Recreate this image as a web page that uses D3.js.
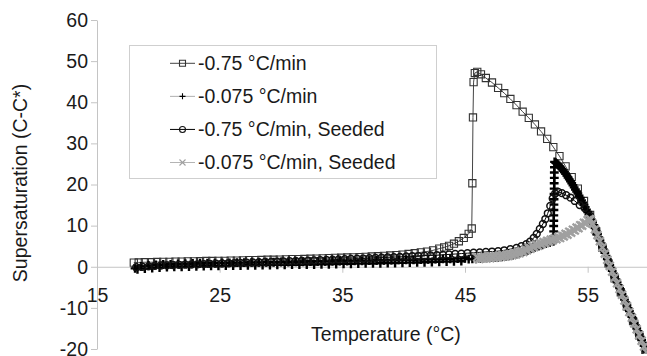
<!DOCTYPE html>
<html>
<head>
<meta charset="utf-8">
<script src="https://cdn.jsdelivr.net/npm/d3@7"></script>
<style>
  html, body { margin: 0; padding: 0; background: #ffffff; }
  svg { display: block; font-family: "Liberation Sans", Arial, Helvetica, sans-serif; }
</style>
</head>
<body>
<svg id="chart" width="647" height="356"></svg>
<script>
// ---- data: supersaturation (C - C*) versus temperature during cooling ----
const seriesNames = [
  "-0.75 °C/min",
  "-0.075 °C/min",
  "-0.75 °C/min, Seeded",
  "-0.075 °C/min, Seeded"
];

const temperatureTicks = [15, 25, 35, 45, 55];
const supersaturationTicks = [-20, -10, 0, 10, 20, 30, 40, 50, 60];

// [temperature °C, supersaturation]
const fastUnseeded = [
  [59.7,-20.2],[59.2,-16.7],[58.7,-13.2],[58.2,-9.7],[57.7,-6.2],[57.2,-2.8],[56.7,0.8],[56.2,4.6],
  [55.7,8.6],[55.2,12.6],[54.7,16.0],[54.2,19.0],[53.7,21.8],[53.2,24.4],[52.7,26.9],[52.2,29.1],
  [51.7,31.1],[51.2,32.9],[50.7,34.6],[50.2,36.2],[49.7,37.7],[49.2,39.3],[48.7,40.8],[48.2,42.2],
  [47.7,43.5],[47.2,44.8],[46.7,45.9],[46.3,46.8],[46.0,47.4],[45.8,47.1],[45.7,44.9],[45.65,36.3],
  [45.6,20.3],[45.55,9.3],[45.3,8.0],[44.9,7.0],[44.5,6.2],[44.1,5.6],[43.7,5.1],[43.3,4.7],
  [42.9,4.4],[42.4,4.0],[41.9,3.7],[41.4,3.5],[40.9,3.3],[40.4,3.1],[39.9,2.95],[39.4,2.85],
  [38.9,2.75],[38.4,2.65],[37.9,2.55],[37.4,2.5],[36.9,2.4],[36.4,2.35],[35.9,2.3],[35.4,2.25],
  [34.9,2.2],[34.4,2.15],[33.9,2.1],[33.4,2.05],[32.9,2.0],[32.4,1.95],[31.9,1.9],[31.4,1.85],
  [30.9,1.85],[30.4,1.8],[29.9,1.75],[29.4,1.7],[28.9,1.7],[28.4,1.65],[27.9,1.6],[27.4,1.6],
  [26.9,1.55],[26.4,1.5],[25.9,1.5],[25.4,1.45],[24.9,1.45],[24.4,1.4],[23.9,1.4],[23.4,1.35],
  [22.9,1.3],[22.4,1.3],[21.9,1.25],[21.4,1.25],[20.9,1.2],[20.4,1.2],[19.9,1.15],[19.4,1.1],
  [18.9,1.1],[18.4,1.05],[18.0,1.0]
];

const slowUnseeded = [
  [59.8,-20.6],[59.7,-19.9],[59.6,-19.2],[59.5,-18.5],[59.4,-17.8],[59.3,-17.1],[59.2,-16.4],[59.1,-15.7],
  [59.0,-15.0],[58.9,-14.3],[58.8,-13.6],[58.7,-12.9],[58.6,-12.2],[58.5,-11.5],[58.4,-10.8],[58.3,-10.1],
  [58.2,-9.4],[58.1,-8.7],[58.0,-8.0],[57.9,-7.3],[57.8,-6.6],[57.7,-5.9],[57.6,-5.2],[57.5,-4.5],
  [57.4,-3.8],[57.3,-3.1],[57.2,-2.4],[57.1,-1.7],[57.0,-1.0],[56.9,-0.3],[56.8,0.4],[56.7,1.15],
  [56.6,1.9],[56.5,2.65],[56.4,3.4],[56.3,4.15],[56.2,4.9],[56.1,5.65],[56.0,6.4],[55.9,7.15],
  [55.8,7.9],[55.7,8.65],[55.6,9.4],[55.5,10.1],[55.4,10.8],[55.3,11.45],[55.2,12.1],[55.1,12.7],
  [55.0,13.3],[54.9,13.9],[54.8,14.5],[54.7,15.05],[54.6,15.6],[54.5,16.15],[54.4,16.7],[54.3,17.25],
  [54.2,17.8],[54.1,18.3],[54.0,18.8],[53.9,19.3],[53.8,19.8],[53.7,20.3],[53.6,20.8],[53.5,21.25],
  [53.4,21.7],[53.3,22.15],[53.2,22.6],[53.1,23.0],[53.0,23.4],[52.9,23.75],[52.8,24.1],[52.7,24.45],
  [52.6,24.8],[52.5,25.05],[52.4,25.3],[52.3,25.5],
  [52.29,24.2],[52.28,22.9],[52.28,21.6],[52.27,20.3],[52.27,19.0],[52.26,17.7],[52.26,16.4],[52.25,15.1],
  [52.25,13.8],[52.24,12.5],[52.24,11.2],[52.23,9.9],[52.23,8.6],[52.22,7.3],[52.21,6.2],
  [51.9,5.9],[51.6,5.6],[51.3,5.3],[51.0,5.0],[50.7,4.7],[50.4,4.4],[50.1,4.0],[49.8,3.7],
  [49.5,3.4],[49.2,3.1],[48.9,2.85],[48.6,2.65],[48.3,2.5],[48.0,2.4],[47.7,2.3],[47.4,2.25],
  [47.1,2.2],[46.8,2.15],[46.5,2.1],[46.2,2.0],[45.9,1.95],[45.6,1.9],[45.3,1.85],
  [45.0,2.05],[44.7,1.35],[44.4,2.0],[44.1,1.3],[43.8,1.95],[43.5,1.25],[43.2,1.9],[42.9,1.2],
  [42.6,1.85],[42.3,1.15],[42.0,1.8],[41.7,1.1],[41.4,1.75],[41.1,1.05],[40.8,1.7],[40.5,1.0],
  [40.2,1.7],[39.9,0.95],[39.6,1.65],[39.3,0.9],[39.0,1.6],[38.7,0.9],[38.4,1.55],[38.1,0.85],
  [37.8,1.55],[37.5,0.8],[37.2,1.5],[36.9,0.8],[36.6,1.45],[36.3,0.75],[36.0,1.45],[35.7,0.7],
  [35.4,1.4],[35.1,0.7],[34.8,1.35],[34.5,0.65],[34.2,1.35],[33.9,0.6],[33.6,1.3],[33.3,0.6],
  [33.0,1.3],[32.7,0.55],[32.4,1.25],[32.1,0.55],[31.8,1.2],[31.5,0.5],[31.2,1.2],[30.9,0.5],
  [30.6,1.15],[30.3,0.45],[30.0,1.15],[29.7,0.45],[29.4,1.1],[29.1,0.4],[28.8,1.1],[28.5,0.4],
  [28.2,1.05],[27.9,0.35],[27.6,1.05],[27.3,0.35],[27.0,1.0],[26.7,0.3],[26.4,1.0],[26.1,0.3],
  [25.8,0.95],[25.5,0.25],[25.2,0.95],[24.9,0.2],[24.6,0.9],[24.3,0.2],[24.0,0.85],[23.7,0.15],
  [23.4,0.85],[23.1,0.1],[22.8,0.8],[22.5,0.05],[22.2,0.75],[21.9,0.0],[21.6,0.7],[21.3,-0.05],
  [21.0,0.6],[20.7,-0.1],[20.4,0.55],[20.1,-0.2],[19.8,0.45],[19.5,-0.3],[19.2,0.3],[18.9,-0.45],
  [18.6,0.1],[18.3,-0.65],[18.1,-0.4]
];

const fastSeeded = [
  [59.7,-20.1],[59.2,-16.6],[58.7,-13.1],[58.2,-9.6],[57.7,-6.1],[57.2,-2.7],[56.7,0.9],[56.2,4.7],
  [55.7,8.6],[55.2,12.4],[54.75,14.3],[54.35,15.0],[53.95,16.0],[53.6,16.8],[53.25,17.4],[52.9,17.9],
  [52.6,18.2],[52.35,17.8],[52.15,16.6],[51.95,14.8],[51.75,13.0],[51.55,11.6],[51.35,10.4],[51.1,9.2],
  [50.85,8.0],[50.6,7.0],[50.3,6.1],[50.0,5.5],[49.6,5.0],[49.2,4.6],[48.7,4.3],[48.2,4.0],
  [47.7,3.8],[47.2,3.7],[46.7,3.6],[46.2,3.5],[45.7,3.4],[45.2,3.3],[44.7,3.2],[44.2,3.1],
  [43.7,3.0],[43.2,2.9],[42.7,2.8],[42.2,2.75],[41.7,2.7],[41.2,2.6],[40.7,2.55],[40.2,2.5],
  [39.7,2.4],[39.2,2.35],[38.7,2.3],[38.2,2.2],[37.7,2.15],[37.2,2.1],[36.7,2.0],[36.2,1.95],
  [35.7,1.9],[35.2,1.85],[34.7,1.8],[34.2,1.7],[33.7,1.65],[33.2,1.6],[32.7,1.55],[32.2,1.5],
  [31.7,1.45],[31.2,1.4],[30.7,1.35],[30.2,1.3],[29.7,1.25],[29.2,1.2],[28.7,1.15],[28.2,1.1],
  [27.7,1.05],[27.2,1.0],[26.7,0.95],[26.2,0.9],[25.7,0.85],[25.2,0.8],[24.7,0.75],[24.2,0.7],
  [23.7,0.65],[23.2,0.6],[22.7,0.55],[22.2,0.5],[21.7,0.45],[21.2,0.4],[20.7,0.35],[20.2,0.3],
  [19.7,0.2],[19.2,0.1],[18.7,0.0],[18.2,-0.1]
];

const slowSeeded = [
  [59.8,-20.8],[59.6,-19.4],[59.4,-18.0],[59.2,-16.6],[59.0,-15.2],[58.8,-13.8],[58.6,-12.4],[58.4,-11.0],
  [58.2,-9.6],[58.0,-8.2],[57.8,-6.8],[57.6,-5.4],[57.4,-4.0],[57.2,-2.6],[57.0,-1.2],[56.8,0.2],
  [56.6,1.7],[56.4,3.2],[56.2,4.7],[56.0,6.2],[55.8,7.7],[55.6,9.1],[55.4,10.5],[55.25,11.5],
  [55.15,11.6],[55.0,11.3],[54.85,10.6],[54.7,10.7],[54.55,10.0],[54.4,10.1],[54.25,9.4],[54.1,9.5],
  [53.95,8.8],[53.8,9.0],[53.65,8.3],[53.5,8.5],[53.35,7.8],[53.2,8.0],[53.05,7.4],[52.9,7.6],
  [52.75,7.0],[52.6,7.2],[52.45,6.7],[52.3,6.9],[52.15,6.4],[52.0,6.6],[51.85,6.1],[51.7,6.3],
  [51.55,5.8],[51.4,6.0],[51.25,5.5],[51.1,5.7],[50.95,5.1],[50.8,5.4],[50.65,4.8],[50.5,5.0],
  [50.35,4.4],[50.2,4.6],[50.05,4.0],[49.9,4.2],[49.75,3.6],[49.6,3.8],[49.45,3.3],[49.3,3.5],
  [49.15,3.0],[49.0,3.3],[48.85,2.8],[48.7,3.1],[48.55,2.6],[48.4,2.95],[48.25,2.5],[48.1,2.85],
  [47.95,2.4],[47.8,2.75],[47.65,2.3],[47.5,2.65],[47.35,2.2],[47.2,2.55],[47.05,2.1],[46.9,2.5],
  [46.75,2.05],[46.6,2.4],[46.45,2.0],[46.3,2.35],[46.15,1.9],[46.0,2.3]
];

// ---- layout ----
const svg = d3.select("#chart");
const plot = { left: 97, right: 649, top: 20, bottom: 349 };
const FONT = 19.5;
const axisColor = "#c4c4c4";
const textColor = "#1a1a1a";

const x = d3.scaleLinear().domain([15, 60]).range([plot.left, plot.right]);
const y = d3.scaleLinear().domain([-20, 60]).range([plot.bottom, plot.top]);

// ---- marker shapes ----
const markerPath = {
  square: a => `M${-a},${-a}h${2 * a}v${2 * a}h${-2 * a}Z`,
  plus:   a => `M${-a},0H${a}M0,${-a}V${a}`,
  cross:  a => `M${-a},${-a}L${a},${a}M${-a},${a}L${a},${-a}`
};

const series = [
  { name: seriesNames[0], data: fastUnseeded, line: "#444444", lineWidth: 1,
    marker: "square", size: 3.6, stroke: "#333333", markerWidth: 1.1 },
  { name: seriesNames[1], data: slowUnseeded, line: "#b0b0b0", lineWidth: 1,
    marker: "plus", size: 4.4, stroke: "#000000", markerWidth: 2.4 },
  { name: seriesNames[2], data: fastSeeded, line: "#000000", lineWidth: 1,
    marker: "circle", size: 3.4, stroke: "#111111", markerWidth: 1.5 },
  { name: seriesNames[3], data: slowSeeded, line: "#b4b4b4", lineWidth: 1,
    marker: "cross", size: 4, stroke: "#a0a0a0", markerWidth: 2.3 }
];

function appendMarker(sel, s, size, width) {
  if (s.marker === "circle") {
    sel.append("circle").attr("r", size)
      .attr("fill", "none").attr("stroke", s.stroke).attr("stroke-width", width);
  } else {
    sel.append("path").attr("d", markerPath[s.marker](size))
      .attr("fill", "none").attr("stroke", s.stroke).attr("stroke-width", width);
  }
}

// ---- axes (plain hyphen for negative labels) ----
const plainNumber = d => String(d);

const yAxis = d3.axisLeft(y).tickValues(supersaturationTicks).tickFormat(plainNumber)
  .tickSize(6).tickSizeOuter(0).tickPadding(3);
const gy = svg.append("g").attr("transform", `translate(${plot.left},0)`).call(yAxis);

const xAxis = d3.axisBottom(x).tickValues(temperatureTicks).tickFormat(plainNumber)
  .tickSize(6).tickSizeOuter(0).tickPadding(15);
const gx = svg.append("g").attr("transform", `translate(0,${y(0)})`).call(xAxis);

[gx, gy].forEach(g => {
  g.select(".domain").attr("stroke", axisColor).attr("stroke-width", 1);
  g.selectAll(".tick line").attr("stroke", axisColor).attr("stroke-width", 1);
  g.selectAll(".tick text").attr("fill", textColor)
    .style("font-size", FONT + "px").style("font-family", "'Liberation Sans', Arial, sans-serif");
});

// axis titles
svg.append("text")
  .attr("transform", "translate(27,183) rotate(-90)")
  .attr("text-anchor", "middle").attr("fill", textColor)
  .style("font-size", FONT + "px")
  .text("Supersaturation (C-C*)");

svg.append("text")
  .attr("x", 386).attr("y", 341)
  .attr("text-anchor", "middle").attr("fill", textColor)
  .style("font-size", FONT + "px")
  .text("Temperature (°C)");

// ---- series (drawn in series order, each line then its markers) ----
svg.append("clipPath").attr("id", "plotClip")
  .append("rect").attr("x", plot.left).attr("y", plot.top - 5)
  .attr("width", plot.right - plot.left + 5).attr("height", plot.bottom - plot.top + 10);

const plotArea = svg.append("g").attr("clip-path", "url(#plotClip)");
const line = d3.line().x(d => x(d[0])).y(d => y(d[1]));

series.forEach(s => {
  const g = plotArea.append("g");
  g.append("path").datum(s.data).attr("d", line)
    .attr("fill", "none").attr("stroke", s.line).attr("stroke-width", s.lineWidth);
  g.selectAll("g.pt").data(s.data).join("g").attr("class", "pt")
    .attr("transform", d => `translate(${x(d[0])},${y(d[1])})`)
    .each(function () { appendMarker(d3.select(this), s, s.size, s.markerWidth); });
});

// ---- legend ----
const legend = svg.append("g");
legend.append("rect")
  .attr("x", 129.5).attr("y", 45.5).attr("width", 307).attr("height", 133)
  .attr("fill", "#ffffff").attr("stroke", "#cfcfcf").attr("stroke-width", 1);

const rowY = d3.scalePoint().domain(seriesNames).range([63.3, 162.5]);
series.forEach(s => {
  const row = legend.append("g").attr("transform", `translate(0,${rowY(s.name)})`);
  row.append("line").attr("x1", 170).attr("x2", 195).attr("y1", 0).attr("y2", 0)
    .attr("stroke", s.line).attr("stroke-width", s.lineWidth);
  const m = row.append("g").attr("transform", "translate(182.5,0)");
  appendMarker(m, s, 3, 1.1);
  row.append("text").attr("x", 198).attr("y", 0).attr("dy", "0.35em")
    .attr("fill", textColor).style("font-size", FONT + "px")
    .text(s.name);
});
</script>
</body>
</html>
